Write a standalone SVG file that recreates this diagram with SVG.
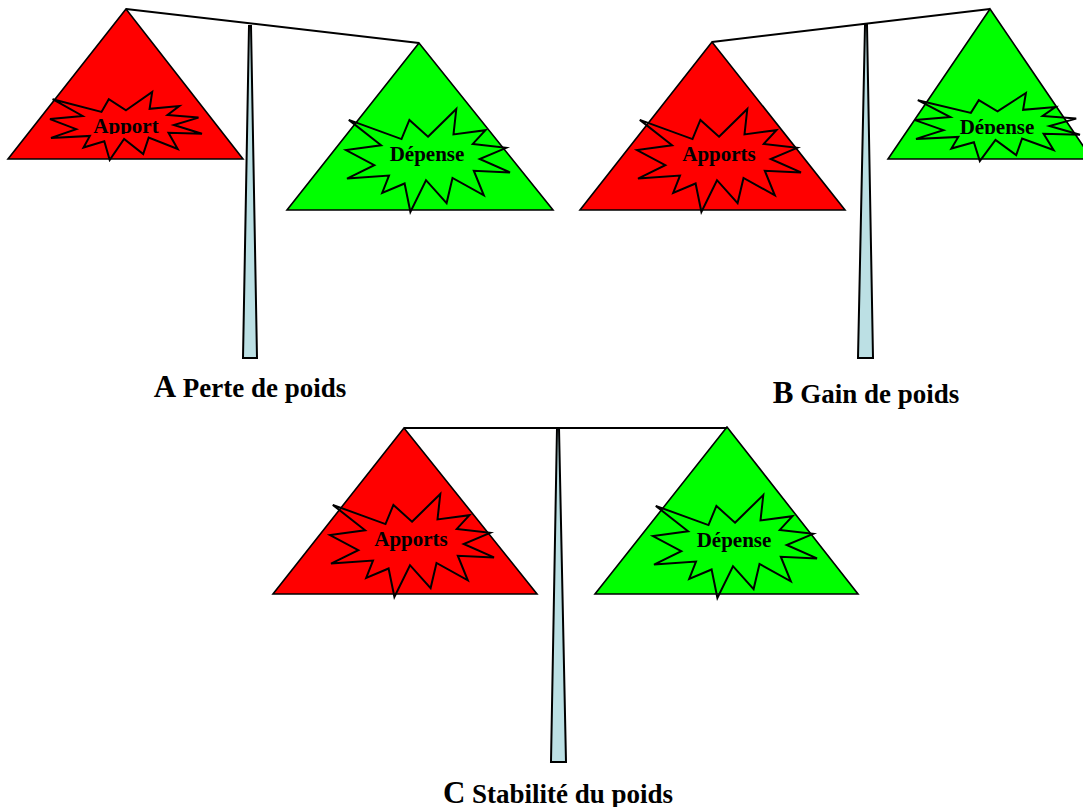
<svg xmlns="http://www.w3.org/2000/svg" xmlns:xlink="http://www.w3.org/1999/xlink" width="1083" height="807" viewBox="0 0 1083 807">
<style>
.red{fill:#FF0000;stroke:#000;stroke-width:1.6;stroke-linejoin:miter}
.green{fill:#00FF00;stroke:#000;stroke-width:1.6}
.star{fill:none;stroke:#000;stroke-width:2;stroke-linejoin:miter}
.pole{fill:#BCE0E4;stroke:#000;stroke-width:2}
.beam{fill:none;stroke:#000;stroke-width:2}
.st{font-family:"Liberation Serif","Times New Roman",serif;font-weight:bold;font-size:21px;fill:#000;text-anchor:middle}
.lab{font-family:"Liberation Serif","Times New Roman",serif;font-weight:bold;font-size:27px;fill:#000;text-anchor:middle}
.big{font-size:31px}
</style>
<defs>
<path id="starS" d="M82,27.7 L110.3,0 L107.5,25.4 L139.5,21.2 L126.8,34.9 L160.2,38.8 L133.7,50 L164,63.4 L127.8,61.7 L137.8,86.3 L106.5,68.9 L100.6,94.1 L80,71.2 L64.4,103 L58.6,74.5 L36.2,84 L43,66.5 L1,69.6 L28.3,56.1 L0,41.1 L35.1,36.3 L2.8,10.9 L55.5,30.1 L63.4,10.9 Z"/>
<clipPath id="clipA"><rect x="0" y="0" width="300" height="134"/></clipPath>
<clipPath id="clipB"><rect x="880" y="0" width="203" height="134"/></clipPath>
</defs>

<g id="scale-A">
  <g id="A-pole"><polygon class="pole" points="249,26 251,26 257,358 243,358"/></g>
  <g id="A-apport">
    <polygon class="red" points="126,9 8,159 243,159"/>
    <path class="star" d="M126,110.3 L152.2,92 L149.6,108.8 L179.3,106 L167.5,115 L198.5,117.6 L173.9,125 L202,133.8 L168.5,132.7 L177.7,149 L148.7,137.5 L143.2,154.1 L124.1,139 L109.7,160 L104.3,141.2 L83.5,147.5 L89.9,135.9 L51,137.9 L76.2,129.1 L50,119.1 L82.6,116 L52.6,99.2 L101.5,111.9 L108.8,99.2 Z"/>
    <text class="st" x="126" y="133" clip-path="url(#clipA)">Apport</text>
  </g>
  <g id="A-depense">
    <polygon class="green" points="419,43 287,210 553,210"/>
    <use xlink:href="#starS" class="star" transform="translate(346,109)"/>
    <text class="st" x="427" y="161">Dépense</text>
  </g>
  <g id="A-label"><text class="lab" x="250" y="397"><tspan class="big">A</tspan> Perte de poids</text></g>
</g>

<g id="scale-B">
  <g id="B-pole"><polygon class="pole" points="865,25 867,25 873,358 858,358"/></g>
  <g id="B-apports">
    <polygon class="red" points="712,42 580,210 845,210"/>
    <use xlink:href="#starS" class="star" transform="translate(637,109)"/>
    <text class="st" x="719" y="161">Apports</text>
  </g>
  <g id="B-depense">
    <polygon class="green" points="990,9 888,159 1092,159"/>
    <path class="star" d="M997.5,111.3 L1025.9,93 L1023.1,109.8 L1055.4,107 L1042.6,116 L1076.2,118.6 L1049.5,126 L1080,134.8 L1043.6,133.7 L1053.6,150 L1022.1,138.5 L1016.2,155.1 L995.5,140 L979.8,161 L973.9,142.2 L951.4,148.5 L958.3,136.9 L916,138.9 L943.4,130.1 L915,120.1 L950.3,117 L917.8,100.2 L970.9,112.9 L978.8,100.2 Z"/>
    <text class="st" x="997" y="133.5" clip-path="url(#clipB)">Dépense</text>
  </g>
  <g id="B-label"><text class="lab" x="866" y="403"><tspan class="big">B</tspan> Gain de poids</text></g>
</g>

<g id="scale-C">
  <g id="C-pole"><polygon class="pole" points="557,428 559,428 566,762 551,762"/></g>
  <g id="C-apports">
    <polygon class="red" points="404,428 273,594 537,594"/>
    <use xlink:href="#starS" class="star" transform="translate(330,494)"/>
    <text class="st" x="411" y="546">Apports</text>
  </g>
  <g id="C-depense">
    <polygon class="green" points="727,427 595,594 858,594"/>
    <use xlink:href="#starS" class="star" transform="translate(653,495)"/>
    <text class="st" x="734" y="547">Dépense</text>
  </g>
  <g id="C-label"><text class="lab" x="558" y="803"><tspan class="big">C</tspan> Stabilité du poids</text></g>
</g>

<g id="connectors">
  <line class="beam" x1="126" y1="9" x2="419" y2="43"/>
  <line class="beam" x1="712" y1="42" x2="990" y2="9"/>
  <line class="beam" x1="404" y1="428" x2="727" y2="428"/>
</g>
</svg>
